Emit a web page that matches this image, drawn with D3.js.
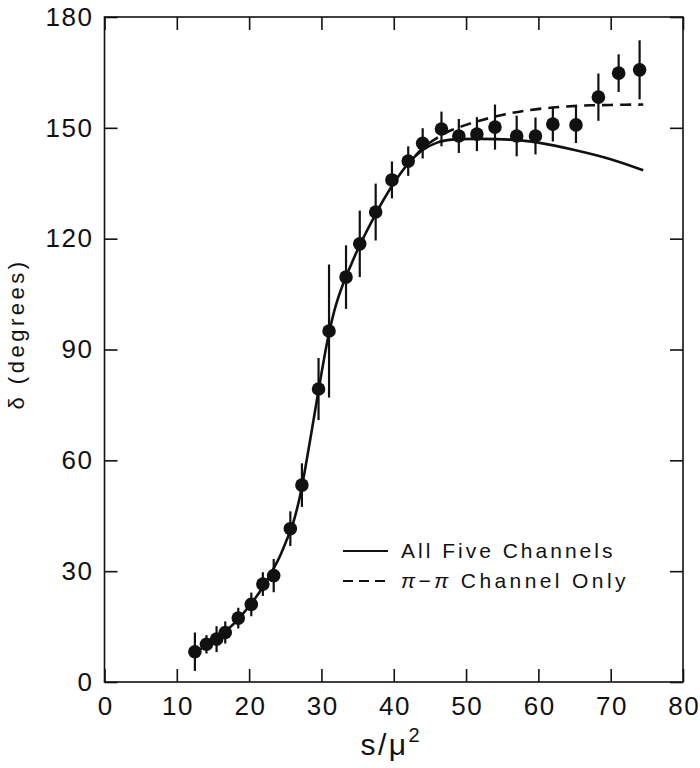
<!DOCTYPE html>
<html><head><meta charset="utf-8">
<script src="https://cdn.jsdelivr.net/npm/d3@7"></script>
<style>
html,body{margin:0;padding:0;background:#fff;}
svg text{font-family:"Liberation Sans","DejaVu Sans",Arial,sans-serif;fill:#111;}
</style></head>
<body>
<svg id="chart" width="700" height="768"></svg>
<script>
// ---- data ----
const sValues = [12.5,14.1,15.5,16.7,18.5,20.3,21.9,23.4,25.7,27.3,29.6,31.05,33.4,35.3,37.5,39.75,42.0,44.0,46.6,49.0,51.5,54.0,57.0,59.6,62.0,65.2,68.3,71.1,74.0];
const deltaValues = [8.2,10.2,11.6,13.4,17.3,21.0,26.5,28.8,41.5,53.3,79.3,95.0,109.6,118.6,127.2,135.9,141.0,145.8,149.7,147.8,148.3,150.2,147.8,147.8,151.0,150.8,158.3,164.8,165.7];
const deltaErrors = [5.2,2.5,3.5,3.0,2.8,3.2,3.2,4.5,4.7,5.9,8.4,18,8.6,9,7.7,5,4,4.1,4.7,4.6,4.6,6.1,5.5,5,4.7,4.9,6.4,5.1,8];

const allFiveS = [12.5,14,16,18,20,22,24,25,26,27,28,29,30,31,32,33,34,35,36,37,38,40,42,44,46,48,52,56,60,65,70,74.5];
const allFiveDelta = [8,9.8,12.5,16,20.5,26,33,37.5,42.5,50,60.5,72,83.5,94,102,107.8,112.5,117,121,124.8,128.5,135,140.3,144,146,146.8,147,146.8,146,144,141.5,138.5];

const pipiS = [43,44,46,48,50,52,55,58,62,66,70,74.5];
const pipiDelta = [142.5,144.5,147.3,149.4,150.8,152,153.5,154.6,155.5,156,156.2,156.3];

const xTicks = [0,10,20,30,40,50,60,70,80];
const yTicks = [0,30,60,90,120,150,180];

const legendLabels = ["All Five Channels", "\u03C0\u2212\u03C0 Channel Only"];

// ---- layout ----
const svg = d3.select("#chart");
const L = 104.5, R = 683, T = 17, B = 682;
const x = d3.scaleLinear().domain([0,80]).range([L,R]);
const y = d3.scaleLinear().domain([0,180]).range([B,T]);
const tickLen = 13;

// frame
svg.append("rect").attr("x",L).attr("y",T).attr("width",R-L).attr("height",B-T)
  .attr("fill","none").attr("stroke","#111").attr("stroke-width",1.6);

// axes with inward ticks
const gBottom = svg.append("g").attr("transform",`translate(0,${B})`)
  .call(d3.axisBottom(x).tickValues(xTicks).tickSize(-tickLen).tickFormat(d3.format("d")));
const gTop = svg.append("g").attr("transform",`translate(0,${T})`)
  .call(d3.axisTop(x).tickValues(xTicks).tickSize(-tickLen).tickFormat(""));
const gLeft = svg.append("g").attr("transform",`translate(${L},0)`)
  .call(d3.axisLeft(y).tickValues(yTicks).tickSize(-tickLen).tickFormat(d3.format("d")));
const gRight = svg.append("g").attr("transform",`translate(${R},0)`)
  .call(d3.axisRight(y).tickValues(yTicks).tickSize(-tickLen).tickFormat(""));
[gBottom,gTop,gLeft,gRight].forEach(g=>{
  g.select(".domain").remove();
  g.selectAll(".tick line").attr("stroke","#111").attr("stroke-width",1.6);
  g.selectAll(".tick text").attr("font-size",26).attr("fill","#111").attr("letter-spacing","1.5px");
});
gBottom.selectAll(".tick text").attr("dy","0.71em").attr("y",15).attr("dx","0.75px");
gLeft.selectAll(".tick text").attr("x",-11);

// axis titles
const xt = svg.append("text").attr("x",390).attr("y",755).attr("text-anchor","middle")
  .attr("font-size",30).attr("letter-spacing","2.5px");
xt.append("tspan").text("s/\u03BC");
xt.append("tspan").attr("font-size",20).attr("dy",-13).attr("letter-spacing","0px").text("2");
svg.append("text").attr("transform","translate(24,334) rotate(-90)").attr("text-anchor","middle")
  .attr("font-size",22).attr("letter-spacing","3.5px").text("\u03B4 (degrees)");

// curves
const line = d3.line().x(d=>x(d[0])).y(d=>y(d[1])).curve(d3.curveCatmullRom.alpha(0.5));
svg.append("path").datum(allFiveS.map((s,i)=>[s,allFiveDelta[i]]))
  .attr("d",line).attr("fill","none").attr("stroke","#111").attr("stroke-width",2.6);
svg.append("path").datum(pipiS.map((s,i)=>[s,pipiDelta[i]]))
  .attr("d",line).attr("fill","none").attr("stroke","#111").attr("stroke-width",2.6)
  .attr("stroke-dasharray","11,7");

// error bars and points
const pts = sValues.map((s,i)=>({s, d:deltaValues[i], e:deltaErrors[i]}));
svg.append("g").selectAll("line").data(pts).join("line")
  .attr("x1",p=>x(p.s)).attr("x2",p=>x(p.s))
  .attr("y1",p=>y(p.d-p.e)).attr("y2",p=>y(p.d+p.e))
  .attr("stroke","#111").attr("stroke-width",2.2);
svg.append("g").selectAll("circle").data(pts).join("circle")
  .attr("cx",p=>x(p.s)).attr("cy",p=>y(p.d)).attr("r",6.8).attr("fill","#111");

// legend
const lg = svg.append("g");
lg.append("line").attr("x1",343).attr("x2",388).attr("y1",551).attr("y2",551)
  .attr("stroke","#111").attr("stroke-width",2);
lg.append("line").attr("x1",343).attr("x2",390).attr("y1",581).attr("y2",581)
  .attr("stroke","#111").attr("stroke-width",2).attr("stroke-dasharray","10,6");
lg.append("text").attr("x",401).attr("y",558).attr("font-size",21).attr("letter-spacing","3px").text(legendLabels[0]);
const t2 = lg.append("text").attr("x",401).attr("y",588).attr("font-size",21).attr("letter-spacing","3.4px");
t2.append("tspan").attr("font-style","italic").text("\u03C0");
t2.append("tspan").text("\u2212");
t2.append("tspan").attr("font-style","italic").text("\u03C0");
t2.append("tspan").text(" Channel Only");
</script>
</body></html>
